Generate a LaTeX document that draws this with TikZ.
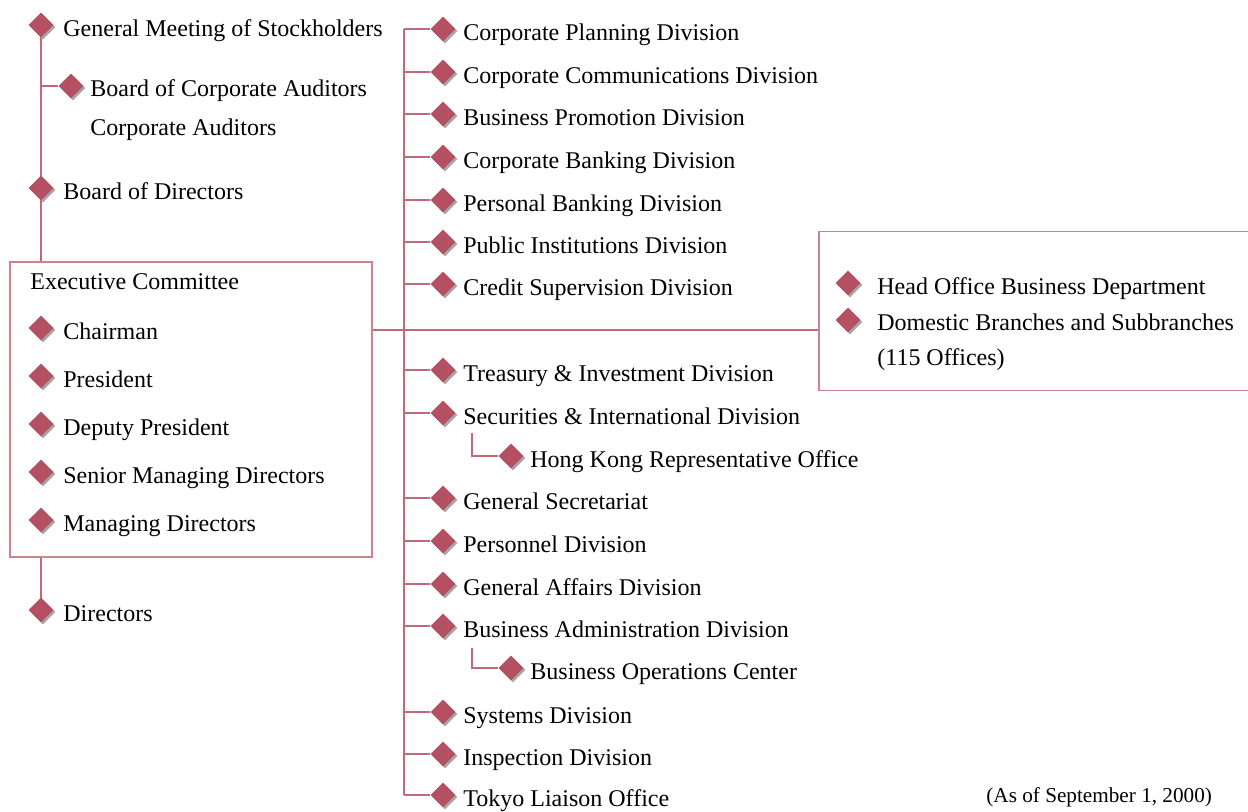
\documentclass[tikz,border=0pt]{standalone}
\usepackage{fontspec}
\setmainfont{Liberation Serif}
\usetikzlibrary{shapes.geometric,shadows,backgrounds}
\definecolor{gemred}{RGB}{181,80,98}
\definecolor{linkred}{RGB}{196,104,120}
\definecolor{boxred}{RGB}{206,130,140}
\begin{document}
\begin{tikzpicture}[x=0.5pt,y=-0.5pt,
  gem/.style={diamond, fill=gemred, inner sep=0pt, minimum width=12.5pt, minimum height=12.5pt,
    general shadow={fill=black!35, shadow xshift=1pt, shadow yshift=-1pt}},
  lbl/.style={anchor=base west, inner sep=0pt, font=\fontsize{12}{14}\selectfont},
  note/.style={anchor=base west, inner sep=0pt, font=\fontsize{10.6}{12}\selectfont},
  link/.style={draw=linkred, line width=0.6pt},
  frame/.style={draw=boxred, line width=0.6pt, inner sep=0pt}]
\useasboundingbox (0,0) rectangle (1248,811);
\clip (0,0) rectangle (1248,811);

% governance column
\node[gem] (gm) at (41,25) {};
\node[lbl] (gm-t) at (63,36) {General Meeting of Stockholders};
\node[gem] (bca) at (71,86) {};
\node[lbl] (bca-t) at (90,96) {Board of Corporate Auditors};
\node[lbl] (ca-t) at (90,135) {Corporate Auditors};
\node[gem] (bod) at (41,188) {};
\node[lbl] (bod-t) at (63,199) {Board of Directors};

% executive committee
\node[frame, minimum width=181pt, minimum height=147.5pt] (exec) at (191,409.5) {};
\node[lbl] (exec-t) at (30,289) {Executive Committee};
\foreach \y/\n/\t in {328/ch/Chairman, 376/pr/President, 424/dp/Deputy President,
                      472/smd/Senior Managing Directors, 520/md/Managing Directors}{
  \node[gem] (\n) at (41,\y) {};
  \node[lbl] (\n-t) at (63,\y+11) {\t};
}
\node[gem] (dir) at (41,610) {};
\node[lbl] (dir-t) at (63,621) {Directors};

% branch office box
\node[frame, minimum width=220.5pt, minimum height=79.5pt] (rbox) at (1039.5,311) {};
\node[gem] (hob) at (848,283) {};
\node[lbl] (hob-t) at (877,294) {Head Office Business Department};
\node[gem] (dbr) at (848,320) {};
\node[lbl] (dbr-t) at (877,330) {Domestic Branches and Subbranches};
\node[lbl] (dbr-t2) at (877,365) {(115 Offices)};

% head office divisions
\coordinate (spine) at (404,0);
\coordinate (sub) at (472,0);
\coordinate (hline) at (0,330);
\foreach \y/\n/\t in {29/m1/Corporate Planning Division,
                      72/m2/Corporate Communications Division,
                      114/m3/Business Promotion Division,
                      157/m4/Corporate Banking Division,
                      200/m5/Personal Banking Division,
                      242/m6/Public Institutions Division,
                      284/m7/Credit Supervision Division,
                      370/m8/Treasury \& Investment Division,
                      413/m9/Securities \& International Division,
                      498/m10/General Secretariat,
                      541/m11/Personnel Division,
                      584/m12/General Affairs Division,
                      626/m13/Business Administration Division,
                      712/m14/Systems Division,
                      754/m15/Inspection Division,
                      795/m16/Tokyo Liaison Office}{
  \node[gem] (\n) at (443,\y) {};
  \node[lbl] (\n-t) at (463,\y+11) {\t};
  \begin{pgfonlayer}{background}
    \draw[link] (spine |- \n.center) -- (\n.west);
  \end{pgfonlayer}
}
\node[gem] (hk) at (511,456) {};
\node[lbl] (hk-t) at (530,467) {Hong Kong Representative Office};
\node[gem] (boc) at (511,668) {};
\node[lbl] (boc-t) at (530,679) {Business Operations Center};
\coordinate (hkTop) at (472,433);
\coordinate (bocTop) at (472,648);

\node[note] (asof) at (986,802) {(As of September 1, 2000)};

\begin{pgfonlayer}{background}
  \draw[link] (gm.center) -- (gm.center |- exec.north);
  \draw[link] (gm.center |- exec.south) -- (dir.center);
  \draw[link] (gm.center |- bca.center) -- (bca.west);
  \draw[link] (spine |- m1.center) -- (spine |- m16.center);
  \draw[link] (exec.east |- hline) -- (rbox.west |- hline);
  \draw[link] (hkTop) |- (hk.west);
  \draw[link] (bocTop) |- (boc.west);
\end{pgfonlayer}
\end{tikzpicture}
\end{document}
